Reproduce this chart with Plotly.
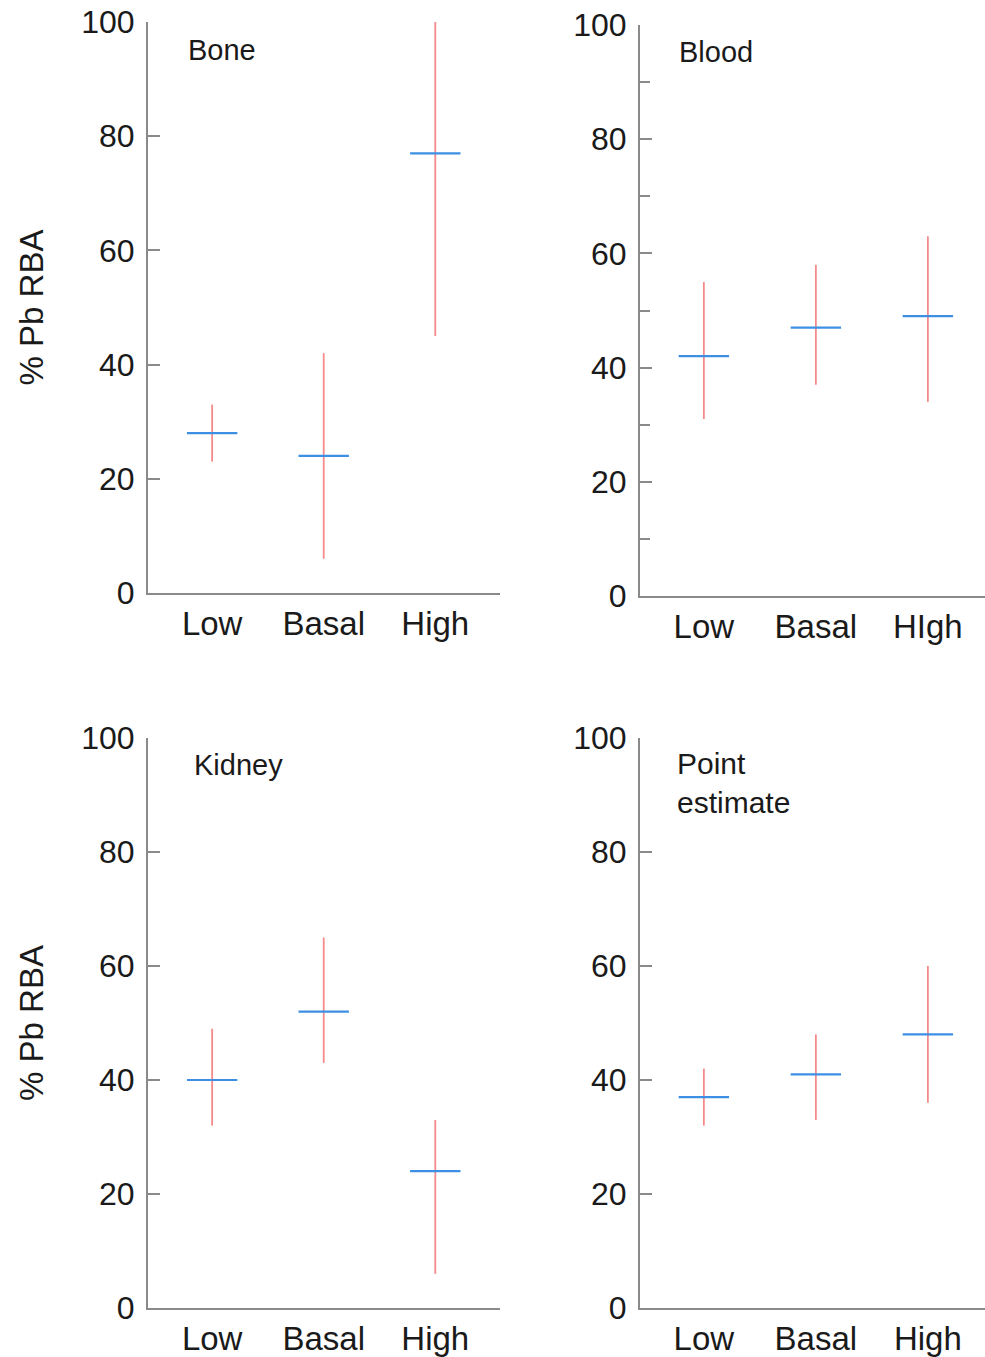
import plotly.graph_objects as go

categories = ["Low", "Basal", "High"]
tick_text_tl = ["Low", "Basal", "High"]
tick_text_tr = ["Low", "Basal", "HIgh"]
tick_text_bl = ["Low", "Basal", "High"]
tick_text_br = ["Low", "Basal", "High"]

panel_names = ["Bone", "Blood", "Kidney", "Point<br>estimate"]

bone_mean = [28, 24, 77]
bone_low = [23, 6, 45]
bone_high = [33, 42, 100]

blood_mean = [42, 47, 49]
blood_low = [31, 37, 34]
blood_high = [55, 58, 63]

kidney_mean = [40, 52, 24]
kidney_low = [32, 43, 6]
kidney_high = [49, 65, 33]

point_mean = [37, 41, 48]
point_low = [32, 33, 36]
point_high = [42, 48, 60]

W, H = 985, 1357
RED = "#f48a8a"
BLUE = "#3d8fe3"
AXIS = "#8a8a8a"
FONT = "Liberation Sans, Arial, sans-serif"

fig = go.Figure()

panels = [
    dict(mean=bone_mean, lo=bone_low, hi=bone_high, ticks=tick_text_tl,
         px=(148, 500), py=(22, 593), xr=[-0.575, 2.58], minor=False, label=(186, 50)),
    dict(mean=blood_mean, lo=blood_low, hi=blood_high, ticks=tick_text_tr,
         px=(640, 985), py=(25, 596), xr=[-0.57, 2.51], minor=True, label=(677, 52)),
    dict(mean=kidney_mean, lo=kidney_low, hi=kidney_high, ticks=tick_text_bl,
         px=(148, 500), py=(738, 1308), xr=[-0.575, 2.58], minor=False, label=(192, 765)),
    dict(mean=point_mean, lo=point_low, hi=point_high, ticks=tick_text_br,
         px=(640, 985), py=(738, 1308), xr=[-0.57, 2.51], minor=False, label=(675, 783)),
]

for i, p in enumerate(panels):
    n = "" if i == 0 else str(i + 1)
    xa, ya = "x" + n, "y" + n
    xs, ys = [], []
    for k in range(len(categories)):
        xs += [k, k, None]
        ys += [p["lo"][k], p["hi"][k], None]
    fig.add_trace(go.Scatter(x=xs, y=ys, mode="lines", xaxis=xa, yaxis=ya,
                             line=dict(color=RED, width=1.8), showlegend=False,
                             hoverinfo="skip"))
    fig.add_trace(go.Scatter(x=list(range(len(categories))), y=p["mean"], mode="markers",
                             xaxis=xa, yaxis=ya, showlegend=False,
                             marker=dict(symbol="line-ew", size=36,
                                         line=dict(color=BLUE, width=2.2))))
    xd = [p["px"][0] / W, p["px"][1] / W]
    yd = [1 - p["py"][1] / H, 1 - p["py"][0] / H]
    xkey = "xaxis" + n
    ykey = "yaxis" + n
    yaxis = dict(domain=yd, range=[0, 100], anchor=xa, showline=True, linecolor=AXIS,
                 linewidth=2, ticks="inside", ticklen=12, tickcolor=AXIS, tickwidth=1.5,
                 tickvals=[0, 20, 40, 60, 80, 100], showgrid=False, zeroline=False,
                 tickfont=dict(family=FONT, size=32, color="#1a1a1a"),
                 ticklabelstandoff=5, automargin=False)
    if p["minor"]:
        yaxis["minor"] = dict(tickvals=[10, 30, 50, 70, 90], ticks="inside", ticklen=10,
                              tickcolor=AXIS, tickwidth=1.5, showgrid=False)
    if i in (0, 2):
        yaxis["title"] = dict(text="% Pb RBA", font=dict(family=FONT, size=33, color="#1a1a1a"),
                              standoff=28)
    fig.layout[ykey] = yaxis
    fig.layout[xkey] = dict(domain=xd, range=p["xr"], anchor=ya, showline=True,
                            linecolor=AXIS, linewidth=2, ticks="", showgrid=False,
                            zeroline=False, tickvals=[0, 1, 2], ticktext=p["ticks"],
                            tickfont=dict(family=FONT, size=33, color="#1a1a1a"),
                            ticklabelstandoff=0, automargin=False)
    fig.add_annotation(text=panel_names[i], xref="paper", yref="paper",
                       x=p["label"][0] / W, y=1 - p["label"][1] / H,
                       xanchor="left", yanchor="middle", align="left",
                       showarrow=False,
                       font=dict(family=FONT, size=29 if i < 3 else 30, color="#1a1a1a"))

fig.update_layout(width=W, height=H, margin=dict(l=0, r=0, t=0, b=0, autoexpand=False),
                  plot_bgcolor="white", paper_bgcolor="white")

fig.write_html("out.html", config={"displayModeBar": False},
               post_script="document.body.style.margin='0';document.body.style.overflow='hidden';")
